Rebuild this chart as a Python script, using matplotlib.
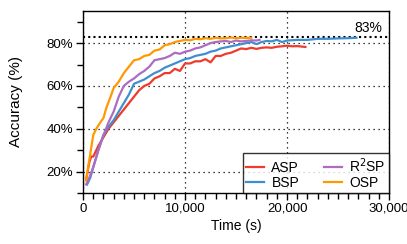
import matplotlib
matplotlib.use("Agg")
import numpy as np
import matplotlib.pyplot as plt
from matplotlib.ticker import MultipleLocator, FuncFormatter

plt.rcParams['font.family'] = ['Liberation Sans', 'DejaVu Sans']

osp_t = [300, 500, 700, 1000, 1300, 1700, 2000, 2300, 2700, 3000, 3500, 4000, 4500, 5000,
         5500, 6000, 6500, 7000, 7500, 8000, 8500, 9000, 9500, 10000, 10500, 11000, 11500,
         12000, 12500, 13000, 13500, 14000, 14500, 15000, 15500, 16000, 16500]
osp_acc = [16, 22, 28, 37, 40, 43, 45, 50, 55, 59, 62, 66, 69, 72, 72.5, 74, 74.5, 76.5, 77,
           79, 79.5, 80.5, 81, 81.5, 81.3, 82, 81.8, 82.3, 82, 82.5, 82.2, 82.3, 82.6, 82.3,
           82.5, 82.4, 82.5]

r2sp_t = [300, 600, 1000, 1500, 2000, 2500, 3000, 3500, 4000, 4500, 5000, 5500, 6000, 6500,
          7000, 7500, 8000, 8500, 9000, 9500, 10000, 10500, 11000, 11500, 12000, 12500, 13000,
          13500, 14000, 14500, 15000, 15500, 16000, 16500, 17000, 17300]
r2sp_acc = [14, 17, 22, 30, 37, 43, 48, 55, 60, 62, 63.5, 65.5, 67, 69, 72, 72.5, 73, 74,
            75.5, 75, 76, 76.5, 77.5, 78, 79, 80, 80.5, 80.8, 81, 80.5, 81.2, 80.8, 81, 81.3,
            81.2, 81.5]

bsp_t = [400, 700, 1000, 1500, 2000, 2500, 3000, 3500, 4000, 4500, 5000, 5500, 6000, 6500,
         7000, 7500, 8000, 8500, 9000, 9500, 10000, 10500, 11000, 11500, 12000, 12500, 13000,
         13500, 14000, 14500, 15000, 15500, 16000, 16500, 17000, 17500, 18000, 18500, 19000,
         19500, 20000, 21000, 22000, 23000, 24000, 25000, 26000, 26800]
bsp_acc = [14, 17, 22, 30, 37, 41, 44, 48, 52, 56, 61, 62, 63, 64.5, 66, 67, 68.5, 69.5, 70.5,
           71.5, 72.5, 73, 74, 74.5, 75, 76, 76.5, 77.5, 78, 78.5, 79, 79.5, 80, 80.5, 79.5,
           80.5, 81, 80.8, 81.5, 80.5, 81.2, 81.5, 81.5, 82, 82, 82.2, 82.3, 82.5]

asp_t = [300, 600, 800, 1000, 1500, 2000, 2500, 3000, 3500, 4000, 4500, 5000, 5500, 6000,
         6500, 7000, 7500, 8000, 8500, 9000, 9500, 10000, 10500, 11000, 11500, 12000, 12500,
         13000, 13500, 14000, 14500, 15000, 15500, 16000, 16500, 17000, 17500, 18000, 18500,
         19000, 19500, 20000, 20500, 21000, 21800]
asp_acc = [16, 24, 27, 27, 32, 36, 40, 43, 46, 49, 52, 55, 58, 60, 61, 63.5, 64.5, 66, 66, 68,
           67, 70.5, 70.5, 71.5, 71.5, 72.5, 71, 74, 74, 75, 75.5, 76.5, 77.5, 77.2, 77.8,
           77.3, 77.8, 78, 77.8, 78.3, 78.5, 78.8, 78.5, 78.6, 78.2]

target = 83

fig = plt.figure(figsize=(4.07, 2.44), dpi=100)
ax = fig.add_axes([0.204, 0.209, 0.752, 0.746])

ax.plot(asp_t, asp_acc, color='#ee3b2c', lw=1.6, label='ASP')
ax.plot(bsp_t, bsp_acc, color='#3f8fd0', lw=1.6, label='BSP')
ax.plot(r2sp_t, r2sp_acc, color='#ad6cc0', lw=1.6, label='R$^2$SP')
ax.plot(osp_t, osp_acc, color='#ff9900', lw=1.6, label='OSP')

ax.axhline(target, color='black', ls=(0, (1, 1.5)), lw=1.5, zorder=1)
ax.text(29300, target + 0.6, '83%', ha='right', va='bottom', fontsize=10)

ax.set_xlim(0, 30000)
ax.set_ylim(10, 95)
ax.xaxis.set_major_locator(MultipleLocator(10000))
ax.xaxis.set_minor_locator(MultipleLocator(1000))
ax.yaxis.set_major_locator(MultipleLocator(20))
ax.yaxis.set_minor_locator(MultipleLocator(10))
ax.xaxis.set_major_formatter(FuncFormatter(lambda v, p: f'{int(v):,}'))
ax.yaxis.set_major_formatter(FuncFormatter(lambda v, p: f'{int(v)}%'))
ax.tick_params(which='both', direction='out', top=False, right=False, labelsize=9.5)
ax.tick_params(which='major', length=5, width=1, pad=2)
ax.tick_params(which='minor', length=4, width=1)
ax.grid(True, which='major', color='black', ls=(0, (1, 3)), lw=0.9)
ax.set_axisbelow(True)
for s in ax.spines.values():
    s.set_linewidth(1)

ax.set_xlabel('Time (s)', fontsize=10, labelpad=3)
ax.set_ylabel('Accuracy (%)', fontsize=11, labelpad=17)

leg = ax.legend(loc='lower right', ncol=2, fontsize=10, frameon=True, fancybox=False,
                borderaxespad=0, handlelength=1.3, columnspacing=1.8, handletextpad=0.5,
                labelspacing=0.05, borderpad=0.25)
leg.get_frame().set_edgecolor('black')
leg.get_frame().set_linewidth(1)

plt.savefig('out.png', dpi=100)
